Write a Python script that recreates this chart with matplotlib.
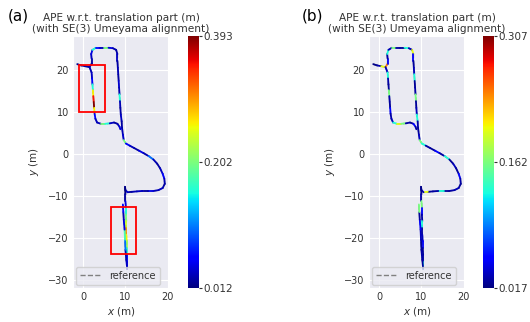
import matplotlib
matplotlib.use("Agg")
import matplotlib.pyplot as plt
import matplotlib.patches as patches
from matplotlib.collections import LineCollection
import numpy as np
import seaborn as sns

# trajectory (metres); part 1 is the main run, part 2 the left leg
path1_x = [-1.4, -0.5, 0.5, 1.5, 2.0, 2.0, 1.9, 2.2, 3.0, 4.0, 5.0, 6.0, 7.0, 7.8, 8.1, 8.1, 8.2, 8.3,
           8.4, 8.5, 8.6, 8.7, 8.8, 8.9, 9.1, 9.2, 9.4, 9.6, 10.1, 11.0, 12.1, 13.2, 14.3, 15.5, 16.6,
           17.5, 18.2, 18.8, 19.2, 19.3, 18.8, 17.8, 16.6, 15.3, 14.0, 12.7, 11.5, 10.5, 10.0, 9.9,
           10.0, 10.0, 10.1, 10.1, 10.2, 10.2, 10.2, 10.3, 10.3, 10.4, 10.4, 10.4, 10.2, 10.0, 9.9,
           9.8, 9.6, 9.5, 9.4]
path1_y = [21.4, 21.1, 20.9, 20.7, 21.5, 22.7, 23.8, 24.8, 25.3, 25.3, 25.3, 25.3, 25.2, 24.8, 23.8,
           22.2, 20.6, 19.0, 17.4, 15.8, 14.2, 12.6, 11.0, 9.4, 7.8, 6.2, 4.6, 3.3, 2.5, 2.0, 1.4, 0.8,
           0.2, -0.5, -1.3, -2.3, -3.4, -4.7, -5.9, -7.1, -8.1, -8.6, -8.8, -8.8, -8.8, -8.9, -9.0,
           -9.1, -8.6, -7.8, -9.6, -11.2, -12.8, -14.4, -16.0, -17.6, -19.2, -20.8, -22.4, -24.0,
           -25.7, -27.4, -25.2, -22.8, -20.4, -18.0, -15.6, -13.8, -12.0]
path2_x = [1.5, 2.0, 2.1, 2.2, 2.3, 2.4, 2.5, 2.6, 2.7, 2.9, 3.3, 4.2, 5.2, 6.3, 7.3, 8.1, 8.6, 8.8]
path2_y = [20.7, 19.4, 18.0, 16.6, 15.2, 13.8, 12.4, 11.0, 9.6, 8.4, 7.5, 7.2, 7.2, 7.3, 7.5, 7.2, 6.5, 5.9]

# APE per pose, panel (a)
err1_a = [0.02, 0.02, 0.025, 0.03, 0.025, 0.035, 0.045, 0.16, 0.06, 0.035, 0.20, 0.045, 0.03, 0.025,
          0.035, 0.025, 0.03, 0.025, 0.04, 0.03, 0.16, 0.03, 0.025, 0.035, 0.025, 0.03, 0.04, 0.20,
          0.06, 0.035, 0.025, 0.045, 0.03, 0.10, 0.03, 0.025, 0.035, 0.06, 0.03, 0.025, 0.035, 0.03,
          0.045, 0.025, 0.035, 0.03, 0.025, 0.04, 0.03, 0.012, 0.025, 0.045, 0.16, 0.20, 0.24, 0.30,
          0.26, 0.22, 0.16, 0.06, 0.045, 0.035, 0.03, 0.10, 0.18, 0.045, 0.03, 0.06, 0.025]
err2_a = [0.03, 0.035, 0.06, 0.16, 0.26, 0.35, 0.393, 0.26, 0.06, 0.035, 0.03, 0.20, 0.16, 0.035,
          0.025, 0.03, 0.045, 0.035]
# APE per pose, panel (b)
err1_b = [0.02, 0.028, 0.20, 0.24, 0.05, 0.028, 0.13, 0.032, 0.16, 0.028, 0.024, 0.13, 0.032, 0.20,
          0.05, 0.024, 0.032, 0.13, 0.024, 0.028, 0.16, 0.024, 0.032, 0.13, 0.028, 0.024, 0.035, 0.16,
          0.13, 0.028, 0.024, 0.05, 0.028, 0.13, 0.024, 0.032, 0.024, 0.05, 0.028, 0.024, 0.032, 0.028,
          0.024, 0.13, 0.028, 0.024, 0.20, 0.032, 0.024, 0.02, 0.028, 0.16, 0.05, 0.028, 0.13, 0.024,
          0.032, 0.05, 0.024, 0.028, 0.13, 0.024, 0.028, 0.024, 0.032, 0.05, 0.024, 0.16, 0.028]
err2_b = [0.032, 0.13, 0.028, 0.024, 0.16, 0.028, 0.024, 0.05, 0.028, 0.032, 0.13, 0.20, 0.16, 0.028,
          0.024, 0.05, 0.028, 0.024]

cbar_a = [0.012, 0.202, 0.393]
cbar_b = [0.017, 0.162, 0.307]

# red boxes on panel (a): x, y, width, height
boxes_a = [(-1.0, 10.0, 6.1, 11.2), (6.6, -23.8, 5.9, 11.2)]

title = "APE w.r.t. translation part (m)\n(with SE(3) Umeyama alignment)"

sns.set_style("darkgrid")
plt.rcParams['font.family'] = ['DejaVu Sans']
text_col = "#333333"


def segments(xs, ys):
    pts = np.column_stack([xs, ys])
    return np.stack([pts[:-1], pts[1:]], axis=1)


def draw_panel(ax, cax, errs, ticks, boxes):
    # reference path (dashed grey) under the coloured estimate
    for xs, ys in [(path1_x, path1_y), (path2_x, path2_y)]:
        ax.plot(xs, ys, '--', color='grey', lw=1.0, zorder=2)
    ax.plot([], [], '--', color='grey', lw=1.0, label='reference')
    norm = plt.Normalize(vmin=ticks[0], vmax=ticks[-1])
    for (xs, ys), e in zip([(path1_x, path1_y), (path2_x, path2_y)], errs):
        lc = LineCollection(segments(xs, ys), cmap='jet', norm=norm, lw=1.3, zorder=3,
                            capstyle='round')
        lc.set_array(np.array(e[:-1]))
        ax.add_collection(lc)
    for bx, by, bw, bh in boxes:
        ax.add_patch(patches.Rectangle((bx, by), bw, bh, fill=False, edgecolor='red',
                                       lw=1.3, zorder=5))
    ax.set_xlim(-2.4, 20.3)
    ax.set_ylim(-31.9, 28.1)
    ax.set_xticks([0, 10, 20])
    ax.set_yticks([-30, -20, -10, 0, 10, 20])
    ax.tick_params(labelsize=7, colors=text_col, pad=3, length=0)
    ax.set_xlabel("$x$ (m)", fontsize=7.5, color=text_col, labelpad=2)
    ax.set_ylabel("$y$ (m)", fontsize=7.5, color=text_col, labelpad=5)
    ax.set_title(title, fontsize=7.6, color=text_col, pad=3, linespacing=1.05)
    leg = ax.legend(loc='lower left', fontsize=7, handlelength=2.2, borderaxespad=0.35,
                    frameon=True, labelcolor=text_col)
    leg.get_frame().set_edgecolor('#cccccc')
    sm = plt.cm.ScalarMappable(norm=norm, cmap='jet')
    cb = plt.colorbar(sm, cax=cax, ticks=ticks)
    cb.ax.set_yticklabels([f"{t:.3f}" for t in ticks])
    cb.outline.set_visible(False)
    cb.ax.tick_params(labelsize=7.5, colors=text_col, length=2.5, width=0.8, right=True, pad=1)


fig = plt.figure(figsize=(5.3, 3.22), dpi=100)
W, H = 530.0, 322.0
ax_a = fig.add_axes([73 / W, 34 / H, 96 / W, 252 / H])
cax_a = fig.add_axes([188 / W, 34 / H, 11 / W, 252 / H])
ax_b = fig.add_axes([369 / W, 34 / H, 96 / W, 252 / H])
cax_b = fig.add_axes([483 / W, 34 / H, 11 / W, 252 / H])

draw_panel(ax_a, cax_a, [err1_a, err2_a], cbar_a, boxes_a)
draw_panel(ax_b, cax_b, [err1_b, err2_b], cbar_b, [])

fig.text(8 / W, 1 - 16 / H, "(a)", fontsize=11, ha='left', va='center', color='black')
fig.text(302 / W, 1 - 16 / H, "(b)", fontsize=11, ha='left', va='center', color='black')

fig.savefig("out.png", dpi=100)
